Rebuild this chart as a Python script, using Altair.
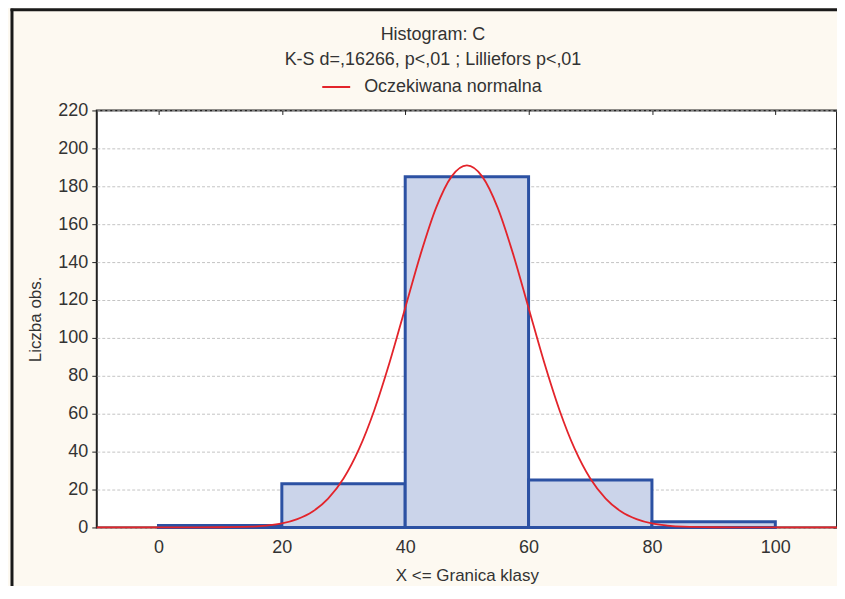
import altair as alt
import pandas as pd

# Histogram classes (X <= class limit) and counts
bin_start = [0, 20, 40, 60, 80]
bin_end = [20, 40, 60, 80, 100]
counts = [1, 23, 185, 25, 3]

# Expected normal curve
curve_x = [-10, 0, 10, 15, 17.5, 20, 22.5, 25, 27.5, 30, 32.5, 35, 37.5, 40, 42.5, 45, 47.5,
           50, 52.5, 55, 57.5, 60, 62.5, 65, 67.5, 70, 72.5, 75, 77.5, 80, 82.5, 85, 90, 100, 110]
curve_y = [0, 0, 0.1, 0.4, 1.0, 2.1, 4.4, 8.4, 15.2, 25.8, 41.3, 62.0, 87.4, 115.8, 144.2, 168.6, 185.1,
           191.0, 185.1, 168.6, 144.2, 115.8, 87.4, 62.0, 41.3, 25.8, 15.2, 8.4, 4.4, 2.1, 1.0, 0.4, 0.1, 0, 0]

x_ticks = [0, 20, 40, 60, 80, 100]
y_ticks = list(range(0, 221, 20))

FONT = "Liberation Sans, Arial, sans-serif"
TXT = "#333333"
W, H = 742, 418

bars_df = pd.DataFrame({"start": bin_start, "end": bin_end, "count": counts, "base": [0] * len(counts)})
curve_df = pd.DataFrame({"x": curve_x, "y": curve_y, "series": ["Oczekiwana normalna"] * len(curve_x)})

xscale = alt.Scale(domain=[-10, 110], nice=False, zero=False)
yscale = alt.Scale(domain=[0, 220], nice=False)

bars = alt.Chart(bars_df).mark_bar(
    fill="#cbd4ea", stroke="#2c51a3", strokeWidth=3
).encode(
    x=alt.X("start:Q", scale=xscale, title="X <= Granica klasy",
            axis=alt.Axis(values=x_ticks, orient="bottom", domain=False, ticks=False,
                          labelPadding=11, labelFontSize=18, labelFont=FONT, labelColor=TXT,
                          titleFontSize=17, titleFont=FONT, titleColor=TXT, titleFontWeight="normal",
                          titlePadding=11, grid=False)),
    x2="end:Q",
    y=alt.Y("count:Q", scale=yscale, title="Liczba obs.",
            axis=alt.Axis(values=y_ticks, orient="left", domain=False, tickSize=5, tickColor="#222",
                          labelPadding=4, labelFontSize=18, labelFont=FONT, labelColor=TXT,
                          titleFontSize=17, titleFont=FONT, titleColor=TXT, titleFontWeight="normal",
                          titlePadding=13, grid=True, gridColor="#c4c4c4", gridDash=[3, 2],
                          gridWidth=1)),
    y2="base:Q",
)

curve = alt.Chart(curve_df).mark_line(strokeWidth=1.8, interpolate="monotone").encode(
    x=alt.X("x:Q", scale=xscale,
            axis=alt.Axis(values=x_ticks, orient="top", labels=False, domain=False, tickSize=4,
                          tickColor="#222", offset=-4, grid=False, title=None)),
    y=alt.Y("y:Q", scale=yscale,
            axis=alt.Axis(values=y_ticks, orient="right", labels=False, domain=False, tickSize=4,
                          tickColor="#222", offset=-4, grid=False, title=None)),
    color=alt.Color("series:N", scale=alt.Scale(range=["#e3242b"]),
                    legend=alt.Legend(orient="none", legendX=225, legendY=-38.5, title=None,
                                      symbolType="stroke", symbolSize=784, symbolStrokeWidth=2,
                                      labelFontSize=18, labelFont=FONT, labelColor=TXT,
                                      labelOffset=13, padding=0, labelLimit=400)),
)

one = pd.DataFrame({"k": [0]})
border_left = alt.Chart(one).mark_rule(color="#1a1a1a", strokeWidth=3).encode(
    x=alt.value(-85), y=alt.value(-102), y2=alt.value(H + 60))
border_top = alt.Chart(one).mark_rule(color="#1a1a1a", strokeWidth=3).encode(
    x=alt.value(-86.5), x2=alt.value(W + 10), y=alt.value(-101))

chart = alt.layer(bars, curve, border_left, border_top).properties(
    width=W, height=H,
    title=alt.TitleParams(
        text="Histogram: C",
        subtitle="K-S d=,16266, p<,01 ; Lilliefors p<,01",
        anchor="middle", frame="group", dx=-34, fontSize=18, font=FONT, color=TXT,
        fontWeight="normal",
        subtitleFontSize=18, subtitleFont=FONT, subtitleColor=TXT, subtitlePadding=7,
        offset=-62),
    autosize=alt.AutoSizeParams(type="none"),
    padding={"left": 89, "top": 102, "right": 0, "bottom": 58},
    background="#fdf9f1",
).configure_view(
    fill="white", stroke="#222222", strokeWidth=2
)

chart.save("out.html", embed_options={"renderer": "svg", "actions": False})
